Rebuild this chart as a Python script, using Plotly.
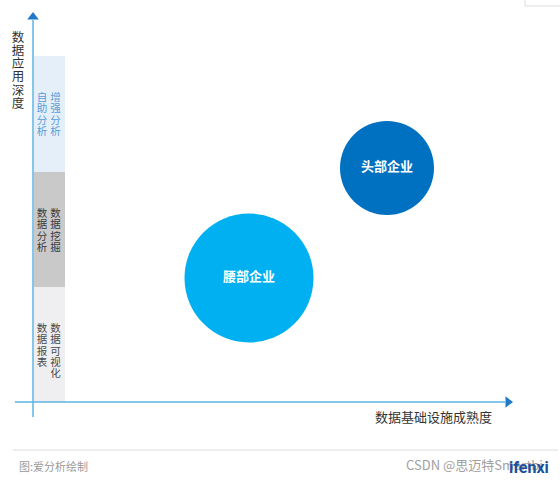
import plotly.graph_objects as go

# bubbles: data infrastructure maturity (x) vs data application depth (y)
companies = ["腰部企业", "头部企业"]
maturity = [216, 354]
depth = [124, 234]
bubble_size = [129, 94]
bubble_colors = ["#00B0F0", "#0070C0"]

# depth levels shown as stacked bands on the y axis
level_left = ["数据报表", "数据分析", "自助分析"]
level_right = ["数据可视化", "数据挖掘", "增强分析"]
level_lo = [0, 115, 230]
level_hi = [115, 230, 346]
level_colors = ["#EFEFF1", "#C9C9C9", "#E4EFFA"]
level_text_colors = ["#4A4A4A", "#3A3A3A", "#5A9BD5"]

FONT = "Noto Sans CJK SC"
AXIS_LINE = "#5DB3E3"
ARROW = "#1F78C8"

fig = go.Figure()

# bands
fig.add_trace(go.Bar(
    x=[16.5] * len(level_lo), y=[h - l for l, h in zip(level_lo, level_hi)], base=level_lo,
    width=31, marker=dict(color=level_colors, line=dict(width=0)),
    showlegend=False, hoverinfo='skip'
))

# vertical text helper: one character per point
def vertical_text(chars, x, y_top, step, size, color):
    ys = [y_top - step * (i + 0.5) for i in range(len(chars))]
    fig.add_trace(go.Scatter(
        x=[x] * len(chars), y=ys, text=list(chars), mode='text',
        textposition='middle center',
        textfont=dict(family=FONT, size=size, color=color),
        showlegend=False, hoverinfo='skip'
    ))

for left, right, hi, c in zip(level_left, level_right, level_hi, level_text_colors):
    vertical_text(left, 9, hi - 37, 11.2, 10.5, c)
    vertical_text(right, 22.5, hi - 37, 11.2, 10.5, c)

# axes lines + arrow heads
fig.add_trace(go.Scatter(x=[0, 0], y=[-15, 382], mode='lines',
                         line=dict(color=AXIS_LINE, width=1.5), showlegend=False, hoverinfo='skip'))
fig.add_trace(go.Scatter(x=[-18, 472], y=[0, 0], mode='lines',
                         line=dict(color=AXIS_LINE, width=1.5), showlegend=False, hoverinfo='skip'))
fig.add_trace(go.Scatter(x=[0], y=[385], mode='markers',
                         marker=dict(symbol='triangle-up', size=10, color=ARROW),
                         showlegend=False, hoverinfo='skip'))
fig.add_trace(go.Scatter(x=[475], y=[0], mode='markers',
                         marker=dict(symbol='triangle-right', size=10, color=ARROW),
                         showlegend=False, hoverinfo='skip'))

# bubbles
fig.add_trace(go.Scatter(
    x=maturity, y=depth, text=companies, mode='markers+text',
    textposition='middle center',
    marker=dict(size=bubble_size, color=bubble_colors, opacity=1, line=dict(width=0)),
    textfont=dict(family=FONT, size=13, color='white', weight='bold'),
    showlegend=False, hoverinfo='skip'
))

# y axis title (vertical)
vertical_text("数据应用深度", -15, 370, 13.2, 12.5, "#333333")

annotations = [
    dict(x=461, y=-14, text="数据基础设施成熟度", xanchor='right', showarrow=False,
         font=dict(family=FONT, size=13, color="#333333")),
    dict(x=-16, y=-64, text="图:爱分析绘制", xanchor='left', showarrow=False,
         font=dict(family=FONT, size=11, color="#9A9A9A")),
    dict(x=371, y=-62, text="CSDN @思迈特Smartbi", xanchor='left', showarrow=False,
         font=dict(family=FONT, size=13, color="#A0A0A0")),
    dict(x=474, y=-65, text="<b>ifenxi</b>", xanchor='left', showarrow=False,
         font=dict(family="Roboto", size=16, color="#1A4F9C")),
]

shapes = [
    dict(type='line', x0=-20, x1=525, y0=-48, y1=-48, line=dict(color="#DDDDDD", width=1)),
    dict(type='rect', x0=492, x1=535, y0=396, y1=410, line=dict(color="#DDDDDD", width=1)),
]

fig.update_layout(
    width=560, height=480,
    margin=dict(l=0, r=0, t=0, b=0),
    paper_bgcolor='white', plot_bgcolor='white',
    xaxis=dict(range=[-33, 527], visible=False, fixedrange=True),
    yaxis=dict(range=[-78, 402], visible=False, fixedrange=True),
    annotations=annotations, shapes=shapes,
    hovermode=False, barmode='overlay',
    font=dict(family=FONT)
)

fig.write_html("out.html", config=dict(displayModeBar=False),
               post_script="document.body.style.margin='0';")
print("saved: out.html")
